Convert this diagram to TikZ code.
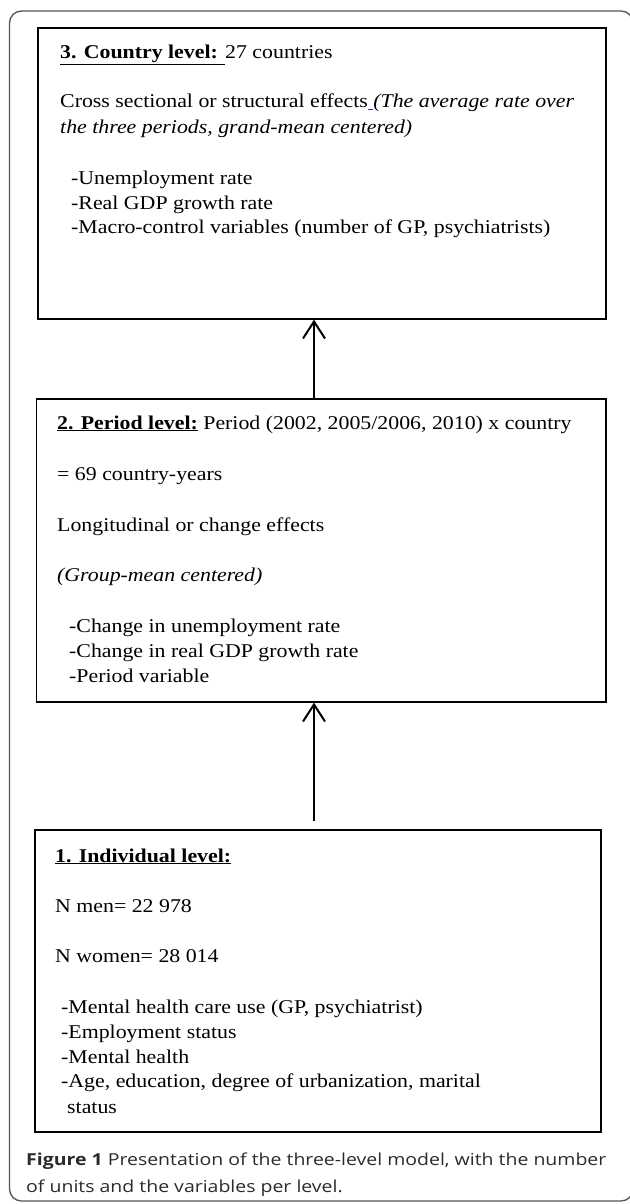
\documentclass[tikz,border=0pt]{standalone}
\usepackage{fontspec}
\setmainfont{Liberation Serif}[FakeStretch=1.12]
\newfontfamily\capfont{Open Sans}[FakeStretch=1.18]
\usetikzlibrary{arrows.meta}
\definecolor{capgray}{HTML}{2A2A2A}
\definecolor{framegray}{HTML}{555555}
\definecolor{linkblue}{HTML}{2040C0}
\tikzset{
  levelbox/.style={draw, line width=1.3pt, inner sep=0pt},
  txt/.style={anchor=base west, inner sep=0pt, font=\fontsize{19.5}{22}\selectfont},
  captxt/.style={anchor=base west, inner sep=0pt, text=capgray, font=\capfont\fontsize{16.5}{20}\selectfont},
  uparrow/.style={line width=2pt, -{Straight Barb[length=17pt,width=22pt,line width=2pt]}}
}
\begin{document}
\begin{tikzpicture}[x=1pt,y=-1pt]
      \useasboundingbox (0,0) rectangle (629,1204);
      \draw[framegray, line width=1.3pt, rounded corners=12pt] (9.5,11) rectangle (633,1201);

      % boxes
      \node[levelbox, minimum width=568pt, minimum height=291pt] (b3) at (322,173.5) {};
      \node[levelbox, minimum width=569.5pt, minimum height=303pt] (b2) at (321.25,550.5) {};
      \node[levelbox, minimum width=566pt, minimum height=302pt] (b1) at (318,981) {};

      % country level
      \node[txt] (c1) at (60,59)  {\underline{\textbf{3. Country level:} }27 countries};
      \node[txt] (c2) at (60,108) {Cross sectional or structural effects{\color{linkblue}\underline{\ }}\textit{(The average rate over}};
      \node[txt] (c3) at (60,134) {\textit{the three periods, grand-mean centered)}};
      \node[txt] (c4) at (71,184) {-Unemployment rate};
      \node[txt] (c5) at (71,209) {-Real GDP growth rate};
      \node[txt] (c6) at (71,233) {-Macro-control variables (number of GP, psychiatrists)};

      % period level
      \node[txt] (p1) at (57,429) {\underline{\textbf{2. Period level:}} Period (2002, 2005/2006, 2010) x country};
      \node[txt] (p2) at (57,480) {= 69 country-years};
      \node[txt] (p3) at (57,531) {Longitudinal or change effects};
      \node[txt] (p4) at (57,581) {\textit{(Group-mean centered)}};
      \node[txt] (p5) at (69,632) {-Change in unemployment rate};
      \node[txt] (p6) at (69,657) {-Change in real GDP growth rate};
      \node[txt] (p7) at (69,682) {-Period variable};

      % individual level
      \node[txt] (i1) at (55,862)  {\underline{\textbf{1. Individual level:}}};
      \node[txt] (i2) at (55,912)  {N men= 22 978};
      \node[txt] (i3) at (55,962)  {N women= 28 014};
      \node[txt] (i4) at (61,1013) {-Mental health care use (GP, psychiatrist)};
      \node[txt] (i5) at (61,1038) {-Employment status};
      \node[txt] (i6) at (61,1063) {-Mental health};
      \node[txt] (i7) at (61,1087) {-Age, education, degree of urbanization, marital};
      \node[txt] (i8) at (67,1113) {status};

      % caption
      \node[captxt] (f1) at (26,1165) {\textbf{Figure 1} Presentation of the three-level model, with the number};
      \node[captxt] (f2) at (26,1192) {of units and the variables per level.};

      % arrows
      \coordinate (a2) at (314,399);
      \coordinate (a1) at (314,821);
      \draw[uparrow] (b2.north -| a2) -- (b3.south -| a2);
      \draw[uparrow] (a1) -- (b2.south -| a1);
    \end{tikzpicture}
\end{document}
